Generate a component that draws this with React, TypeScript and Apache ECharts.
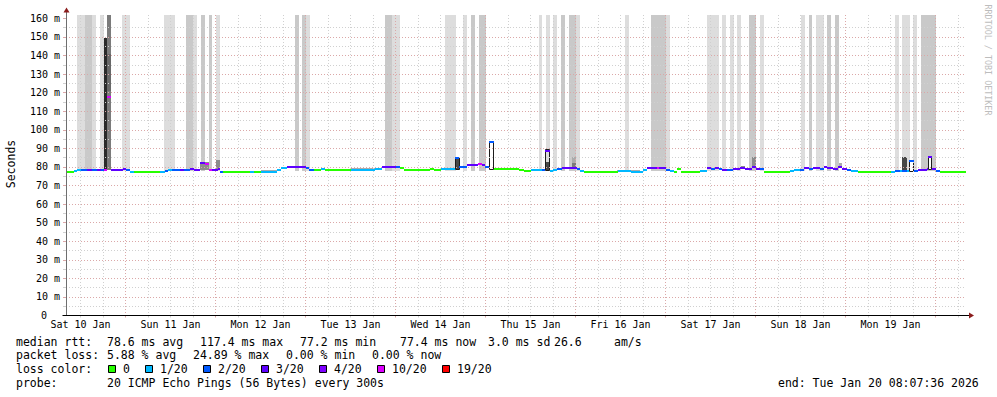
import React, { useEffect, useRef } from 'react';
import * as echarts from 'echarts';

// ---------- data ----------
// Time values are hours after the graph start: Sat 10 Jan 2026 08:07:36 (10 days shown).
const SPAN_HOURS = 240;
const FIRST_NOON = 3.873; // Sat 10 Jan 12:00
const FIRST_MIDNIGHT = 15.873; // Sun 11 Jan 00:00
const DAY_LABELS = ['Sat 10 Jan', 'Sun 11 Jan', 'Mon 12 Jan', 'Tue 13 Jan', 'Wed 14 Jan', 'Thu 15 Jan', 'Fri 16 Jan', 'Sat 17 Jan', 'Sun 18 Jan', 'Mon 19 Jan'];
const Y_MAX = 161.8; // ms
const Y_LABELS = [0, 10, 20, 30, 40, 50, 60, 70, 80, 90, 100, 110, 120, 130, 140, 150, 160];
const Y_TICKS = [0, 5, 10, 15, 20, 25, 30, 35, 40, 45, 50, 55, 60, 65, 70, 75, 80, 85, 90, 95, 100, 105, 110, 115, 120, 125, 130, 135, 140, 145, 150, 155, 160];

const LOSS_LABELS = ['0', '1/20', '2/20', '3/20', '4/20', '10/20', '19/20'];

// smoke bands reaching above the chart: [start h, end h, low ms, high ms, density level]
const SMOKE_BANDS: number[][] = [
  [3.01, 5.07, 78, 200, 1], [5.07, 7.01, 78, 200, 2], [7.01, 8.0, 78, 200, 1], [9.07, 10.05, 78, 200, 1],
  [10.93, 12.0, 78.3, 200, 5], [14.93, 17.07, 78, 200, 1], [26.13, 29.07, 78, 200, 1],
  [32.0, 33.95, 78, 200, 2], [33.95, 34.93, 78, 200, 1], [35.92, 37.07, 78, 200, 2], [38.13, 38.93, 78, 200, 2],
  [39.92, 41.07, 78, 200, 1], [61.07, 62.13, 78, 200, 2], [63.01, 63.92, 78, 200, 2], [63.92, 65.07, 78, 200, 1],
  [85.07, 87.01, 78, 200, 2], [87.01, 89.07, 78, 200, 1], [101.07, 104.0, 78, 200, 1], [105.95, 106.85, 78, 200, 1],
  [107.92, 109.07, 78, 200, 2], [110.13, 111.92, 78, 200, 2], [126.13, 127.01, 78, 200, 1], [127.92, 129.07, 78, 200, 1],
  [129.95, 130.85, 78, 200, 1], [132.0, 133.07, 78, 200, 2], [134.13, 135.92, 78, 200, 2], [135.92, 137.07, 78, 200, 1],
  [149.07, 150.13, 78, 200, 1], [156.0, 159.92, 78, 200, 2], [159.92, 161.07, 78, 200, 1], [170.93, 174.13, 78, 200, 1],
  [174.93, 176.0, 78, 200, 1], [177.07, 178.13, 78, 200, 1], [178.93, 180.0, 78, 200, 1], [182.13, 183.92, 78, 200, 2],
  [185.07, 186.13, 78, 200, 1], [195.92, 197.15, 78, 200, 1], [198.13, 199.01, 78, 200, 2], [200.08, 202.21, 78, 200, 1],
  [203.01, 204.0, 78, 200, 2], [205.07, 206.13, 78, 200, 2], [221.07, 222.13, 78, 200, 1], [223.01, 225.07, 78, 200, 1],
  [225.95, 226.85, 78, 200, 1], [228.0, 231.92, 78, 200, 2],
];

// denser smoke near the median: [start h, end h, low ms, high ms, density level]
const SMOKE_CORE: number[][] = [
  [10.05, 10.93, 78.3, 149.4, 8], [10.93, 12.0, 120.8, 140.8, 6], [35.73, 38.13, 78.3, 82.8, 4],
  [40.0, 41.07, 78.3, 83.7, 4], [51.92, 56.19, 77.8, 78.6, 3], [76.0, 82.4, 78.6, 79.4, 3],
  [103.73, 105.07, 79.0, 85.2, 7], [127.73, 129.07, 82.8, 89.7, 1], [127.73, 129.07, 78.4, 82.8, 7],
  [134.85, 135.92, 78.8, 85.5, 3], [134.85, 135.92, 78.8, 82.0, 5], [146.93, 153.07, 77.8, 78.6, 3],
  [180.0, 181.07, 79.5, 80.4, 4], [182.93, 184.0, 79.5, 85.5, 4], [206.13, 206.93, 79.5, 82.0, 3],
  [222.85, 224.19, 77.8, 85.5, 7],
];

// outlined ping spikes: [start h, end h, low ms, high ms, hollow (1) or not (0)]
const SPIKES: number[][] = [
  [103.73, 105.07, 79.0, 85.2, 0], [112.88, 114.13, 78.8, 93.9, 1], [127.73, 129.07, 78.4, 89.7, 0],
  [224.8, 226.13, 77.9, 83.3, 1], [229.8, 231.01, 78.9, 86.0, 1],
];

// median rtt: [start h, median ms, loss level index]; each step lasts until the next one
const MEDIAN_RTT: number[][] = [
  [0, 77.3, 0], [2.13, 77.6, 1], [3.01, 78.2, 1], [4.0, 78.3, 2], [5.6, 78.3, 3], [6.85, 78.3, 2],
  [8.19, 78.3, 3], [9.25, 78.3, 2], [10.13, 78.3, 5], [11.01, 117.4, 5], [11.92, 78.3, 3], [15.28, 78.9, 3],
  [16.0, 78.3, 2], [17.07, 77.5, 1], [18.13, 77.2, 0], [25.07, 77.4, 1], [26.4, 77.8, 2], [27.2, 78.3, 1],
  [28.27, 78.3, 2], [30.4, 78.3, 3], [31.47, 78.3, 2], [33.07, 78.9, 3], [34.13, 78.3, 3], [35.73, 82.3, 3],
  [37.07, 81.4, 5], [38.05, 78.3, 5], [39.01, 78.3, 3], [40.53, 79.0, 3], [41.07, 77.4, 2], [41.95, 77.3, 0],
  [49.07, 77.3, 1], [50.13, 77.3, 0], [51.92, 77.4, 1], [56.19, 78.3, 1], [57.25, 79.3, 1], [58.93, 79.8, 3],
  [61.52, 80.1, 3], [62.67, 79.8, 3], [63.92, 79.2, 2], [64.8, 78.6, 2], [66.05, 78.4, 0], [68.0, 78.8, 1],
  [69.07, 78.4, 0], [76.0, 78.4, 1], [82.4, 79.1, 1], [84.19, 79.7, 3], [87.92, 80.0, 2], [89.07, 79.3, 0],
  [90.21, 78.6, 0], [97.07, 79.0, 0], [98.21, 78.6, 0], [100.0, 78.8, 1], [101.95, 79.1, 1], [103.73, 84.6, 2],
  [104.8, 80.2, 2], [106.85, 81.0, 3], [109.95, 81.4, 5], [110.85, 80.8, 3], [111.73, 79.9, 2], [112.88, 93.5, 2],
  [114.13, 78.8, 0], [120.88, 78.4, 0], [122.13, 77.8, 0], [123.92, 78.2, 1], [126.85, 78.4, 2], [127.73, 88.8, 3],
  [129.07, 77.7, 1], [129.95, 78.4, 1], [131.01, 79.0, 2], [132.19, 79.2, 3], [136.19, 78.9, 2], [137.07, 77.7, 1],
  [138.13, 77.5, 0], [147.28, 77.8, 1], [150.59, 77.4, 1], [153.79, 78.4, 1], [154.85, 79.4, 3], [157.52, 79.4, 5],
  [158.13, 79.4, 3], [159.92, 78.6, 2], [161.07, 78.0, 1], [162.13, 77.3, 0], [163.01, 78.9, 0], [163.92, 77.3, 0],
  [169.07, 77.7, 1], [170.85, 79.2, 3], [171.92, 78.8, 2], [173.07, 79.2, 3], [174.13, 78.8, 2], [174.85, 78.6, 3],
  [176.19, 78.6, 2], [177.79, 78.7, 3], [179.73, 79.6, 3], [181.07, 78.7, 3], [182.85, 79.7, 3], [184.0, 78.7, 3],
  [185.07, 78.7, 2], [186.13, 77.3, 0], [193.07, 77.6, 1], [194.13, 78.3, 1], [195.73, 78.6, 2], [196.8, 79.2, 3],
  [198.21, 78.8, 2], [199.28, 79.2, 3], [201.07, 78.7, 2], [202.13, 79.7, 3], [203.01, 79.2, 3], [204.61, 78.8, 3],
  [205.95, 79.7, 3], [207.01, 78.8, 3], [208.19, 78.4, 2], [209.25, 77.8, 1], [211.2, 77.2, 0], [220.0, 77.5, 1],
  [221.07, 77.8, 2], [222.4, 77.6, 1], [222.85, 77.6, 2], [224.19, 77.6, 1], [224.8, 83.0, 2], [226.13, 77.9, 2],
  [227.12, 78.4, 3], [229.52, 78.9, 3], [229.8, 85.6, 3], [231.01, 78.9, 3], [231.92, 78.0, 2], [233.07, 77.2, 0],
];

const RTT_STATS = ['78.6 ms avg', '117.4 ms max', '77.2 ms min', '77.4 ms now', '3.0 ms sd', '26.6', 'am/s'];
const LOSS_STATS = ['5.88 % avg', '24.89 % max', '0.00 % min', '0.00 % now'];
const PROBE_TEXT = '20 ICMP Echo Pings (56 Bytes) every 300s';
const END_TEXT = 'end: Tue Jan 20 08:07:36 2026';

// ---------- styles / layout ----------
const FONT = "'DejaVu Sans Mono', monospace";
const LOSS_COLORS = ['#26ff00', '#00b8ff', '#0059ff', '#5e00ff', '#7e00ff', '#dd00ff', '#ff0000'];
const SHADES = ['#ffffff', '#dddddd', '#c9c9c9', '#ababab', '#8c8c8c', '#7b7b7b', '#686868', '#474747', '#2a2a2a'];
const MAJOR = '#dba8a8';
const MINOR = '#d0d0d0';
const RTT_X = [107, 200, 300, 400, 488, 554, 614];
const LOSS_X = [107, 193, 286, 372];
const BOX_X = [108.5, 145.5, 203.5, 261.5, 319.5, 377.5, 442.5];
const ROW_Y = [341.7, 355.3, 369, 382.7];

const LABEL_TICKS = DAY_LABELS.map((_, i) => FIRST_NOON + 24 * i);
const MAJOR_TICKS = DAY_LABELS.map((_, i) => FIRST_MIDNIGHT + 24 * i);
const MINOR_TICKS: number[] = [];
for (let k = 0; FIRST_NOON + 6 * k < SPAN_HOURS; k++) {
  if (k % 4 !== 2) MINOR_TICKS.push(FIRST_NOON + 6 * k);
}

function boxItem(params: any, api: any) {
  const a = api.coord([api.value(0), api.value(3)]);
  const b = api.coord([api.value(1), api.value(2)]);
  const x0 = Math.round(a[0]);
  const x1 = Math.round(b[0]);
  const y0 = Math.round(a[1]);
  const y1 = Math.round(b[1]);
  return {
    type: 'rect',
    shape: { x: x0, y: y0, width: x1 - x0, height: y1 - y0 },
    style: { fill: SHADES[api.value(4)] },
  };
}

function spikeItem(params: any, api: any) {
  const a = api.coord([api.value(0), api.value(3)]);
  const b = api.coord([api.value(1), api.value(2)]);
  const x0 = Math.round(a[0]);
  const x1 = Math.round(b[0]);
  const y0 = Math.round(a[1]);
  const y1 = Math.round(b[1]);
  return {
    type: 'rect',
    shape: { x: x0 + 0.5, y: y0 + 0.5, width: x1 - x0 - 1, height: y1 - y0 },
    style: { fill: api.value(4) ? '#ffffff' : 'none', stroke: '#1c1c1c', lineWidth: 1 },
  };
}

function medianItem(params: any, api: any) {
  const a = api.coord([api.value(0), api.value(2)]);
  const b = api.coord([api.value(1), api.value(2)]);
  const x0 = Math.round(a[0]);
  const x1 = Math.round(b[0]);
  const y = Math.round(a[1]);
  return {
    type: 'rect',
    shape: { x: x0, y: y - 1, width: x1 - x0, height: 2 },
    style: { fill: LOSS_COLORS[api.value(3)] },
  };
}

function txt(x: number, y: number, text: string, extra: any = {}, el: any = {}) {
  return {
    type: 'text',
    x,
    y,
    silent: true,
    z: 20,
    ...el,
    style: {
      text,
      fontFamily: FONT,
      fontSize: 11.5,
      fill: '#000',
      align: 'left',
      verticalAlign: 'middle',
      ...extra,
    },
  };
}

function buildOption() {
  const medianData = MEDIAN_RTT.map((d, i) => [
    d[0],
    i + 1 < MEDIAN_RTT.length ? MEDIAN_RTT[i + 1][0] : SPAN_HOURS,
    d[1],
    d[2],
  ]);

  const xBase = { type: 'value', min: 0, max: SPAN_HOURS, position: 'bottom', gridIndex: 0 };
  const yBase = { type: 'value', min: 0, max: Y_MAX, interval: 5, position: 'left', gridIndex: 0 };

  const graphic: any[] = [
    // axes
    { type: 'line', z: 20, silent: true, shape: { x1: 66.5, y1: 316, x2: 66.5, y2: 11 }, style: { stroke: '#6e6e6e', lineWidth: 1 } },
    { type: 'line', z: 20, silent: true, shape: { x1: 62.5, y1: 315.5, x2: 969, y2: 315.5 }, style: { stroke: '#000', lineWidth: 1 } },
    { type: 'polygon', z: 21, silent: true, shape: { points: [[63.5, 12.5], [69.5, 12.5], [66.5, 7.5]] }, style: { fill: '#8b1c1c' } },
    { type: 'polygon', z: 21, silent: true, shape: { points: [[969, 312.5], [969, 318.5], [974, 315.5]] }, style: { fill: '#8b1c1c' } },
    // titles
    txt(10.5, 164, 'Seconds', { align: 'center' }, { rotation: Math.PI / 2 }),
    txt(987.5, 60, 'RRDTOOL / TOBI OETIKER', { align: 'center', fontSize: 8.4, fill: '#bdbdbd' }, { rotation: -Math.PI / 2 }),
    // legend rows
    txt(16, ROW_Y[0], 'median rtt:'),
    ...RTT_STATS.map((s, i) => txt(RTT_X[i], ROW_Y[0], s)),
    txt(16, ROW_Y[1], 'packet loss:'),
    ...LOSS_STATS.map((s, i) => txt(LOSS_X[i], ROW_Y[1], s)),
    txt(16, ROW_Y[2], 'loss color:'),
    ...LOSS_LABELS.map((s, i) => txt(Math.round(BOX_X[i] + 14.5), ROW_Y[2], s)),
    ...LOSS_LABELS.map((_, i) => ({
      type: 'rect',
      z: 20,
      silent: true,
      shape: { x: BOX_X[i], y: 365.5, width: 7, height: 7 },
      style: { fill: LOSS_COLORS[i], stroke: '#000', lineWidth: 1 },
    })),
    txt(16, ROW_Y[3], 'probe:'),
    txt(107, ROW_Y[3], PROBE_TEXT),
    txt(778, ROW_Y[3], END_TEXT),
  ];

  return {
    animation: false,
    backgroundColor: '#ffffff',
    textStyle: { fontFamily: FONT },
    grid: { left: 66, top: 15, width: 900, height: 300.5, containLabel: false },
    xAxis: [
      {
        ...xBase,
        z: 2,
        axisLine: { show: false },
        axisTick: { show: false, customValues: LABEL_TICKS },
        splitLine: { show: false },
        axisLabel: {
          customValues: LABEL_TICKS,
          formatter: (v: number) => DAY_LABELS[Math.round((v - FIRST_NOON) / 24)] || '',
          fontFamily: FONT,
          fontSize: 10,
          color: '#000',
          margin: 4,
        },
      },
      {
        ...xBase,
        z: 2,
        axisLine: { show: false },
        axisLabel: { show: false },
        axisTick: { show: true, length: 2, customValues: MINOR_TICKS, lineStyle: { color: MINOR } },
        splitLine: { show: true, lineStyle: { color: MINOR, width: 1, type: [1, 2] } },
      },
      {
        ...xBase,
        z: 2,
        axisLine: { show: false },
        axisLabel: { show: false },
        axisTick: { show: true, length: 2, customValues: MAJOR_TICKS, lineStyle: { color: MAJOR } },
        splitLine: { show: true, lineStyle: { color: MAJOR, width: 1, type: [1, 2] } },
      },
    ],
    yAxis: [
      {
        ...yBase,
        z: 2,
        axisLine: { show: false },
        axisTick: { show: true, length: 3, customValues: Y_TICKS, lineStyle: { color: MINOR } },
        splitLine: { show: true, showMaxLine: false, lineStyle: { color: [MAJOR, MINOR], width: 1, type: [1, 2] } },
        axisLabel: {
          customValues: Y_LABELS,
          fontFamily: FONT,
          fontSize: 10,
          color: '#000',
          margin: 6,
          formatter: (v: number) => (Math.abs(v) < 1e-6 ? '{z|0}' : `${Math.round(v)} m`),
          rich: { z: { fontFamily: FONT, fontSize: 10, color: '#000', padding: [0, 13, 0, 0] } },
        },
      },
      {
        ...yBase,
        z: 2,
        axisLine: { show: false },
        axisLabel: { show: false },
        splitLine: { show: false },
        axisTick: { show: true, length: 3, customValues: Y_LABELS, lineStyle: { color: MAJOR } },
      },
    ],
    series: [
      {
        type: 'custom',
        name: 'smoke',
        xAxisIndex: 0,
        yAxisIndex: 0,
        z: 1,
        clip: true,
        silent: true,
        renderItem: boxItem,
        encode: { x: [0, 1], y: [2, 3] },
        data: [...SMOKE_BANDS, ...SMOKE_CORE],
      },
      {
        type: 'custom',
        name: 'spikes',
        xAxisIndex: 0,
        yAxisIndex: 0,
        z: 1,
        clip: true,
        silent: true,
        renderItem: spikeItem,
        encode: { x: [0, 1], y: [2, 3] },
        data: SPIKES,
      },
      {
        type: 'custom',
        name: 'median rtt',
        xAxisIndex: 0,
        yAxisIndex: 0,
        z: 5,
        clip: true,
        silent: true,
        renderItem: medianItem,
        encode: { x: [0, 1], y: 2 },
        data: medianData,
      },
    ],
    graphic,
  };
}

export default function App() {
  const ref = useRef<HTMLDivElement>(null);
  useEffect(() => {
    if (!ref.current) return;
    const chart = echarts.init(ref.current, undefined, { renderer: 'svg' });
    chart.setOption(buildOption() as any);
    return () => chart.dispose();
  }, []);
  return (
    <div
      ref={ref}
      style={{ position: 'fixed', left: 0, top: 0, width: 997, height: 397, background: '#ffffff' }}
    />
  );
}
